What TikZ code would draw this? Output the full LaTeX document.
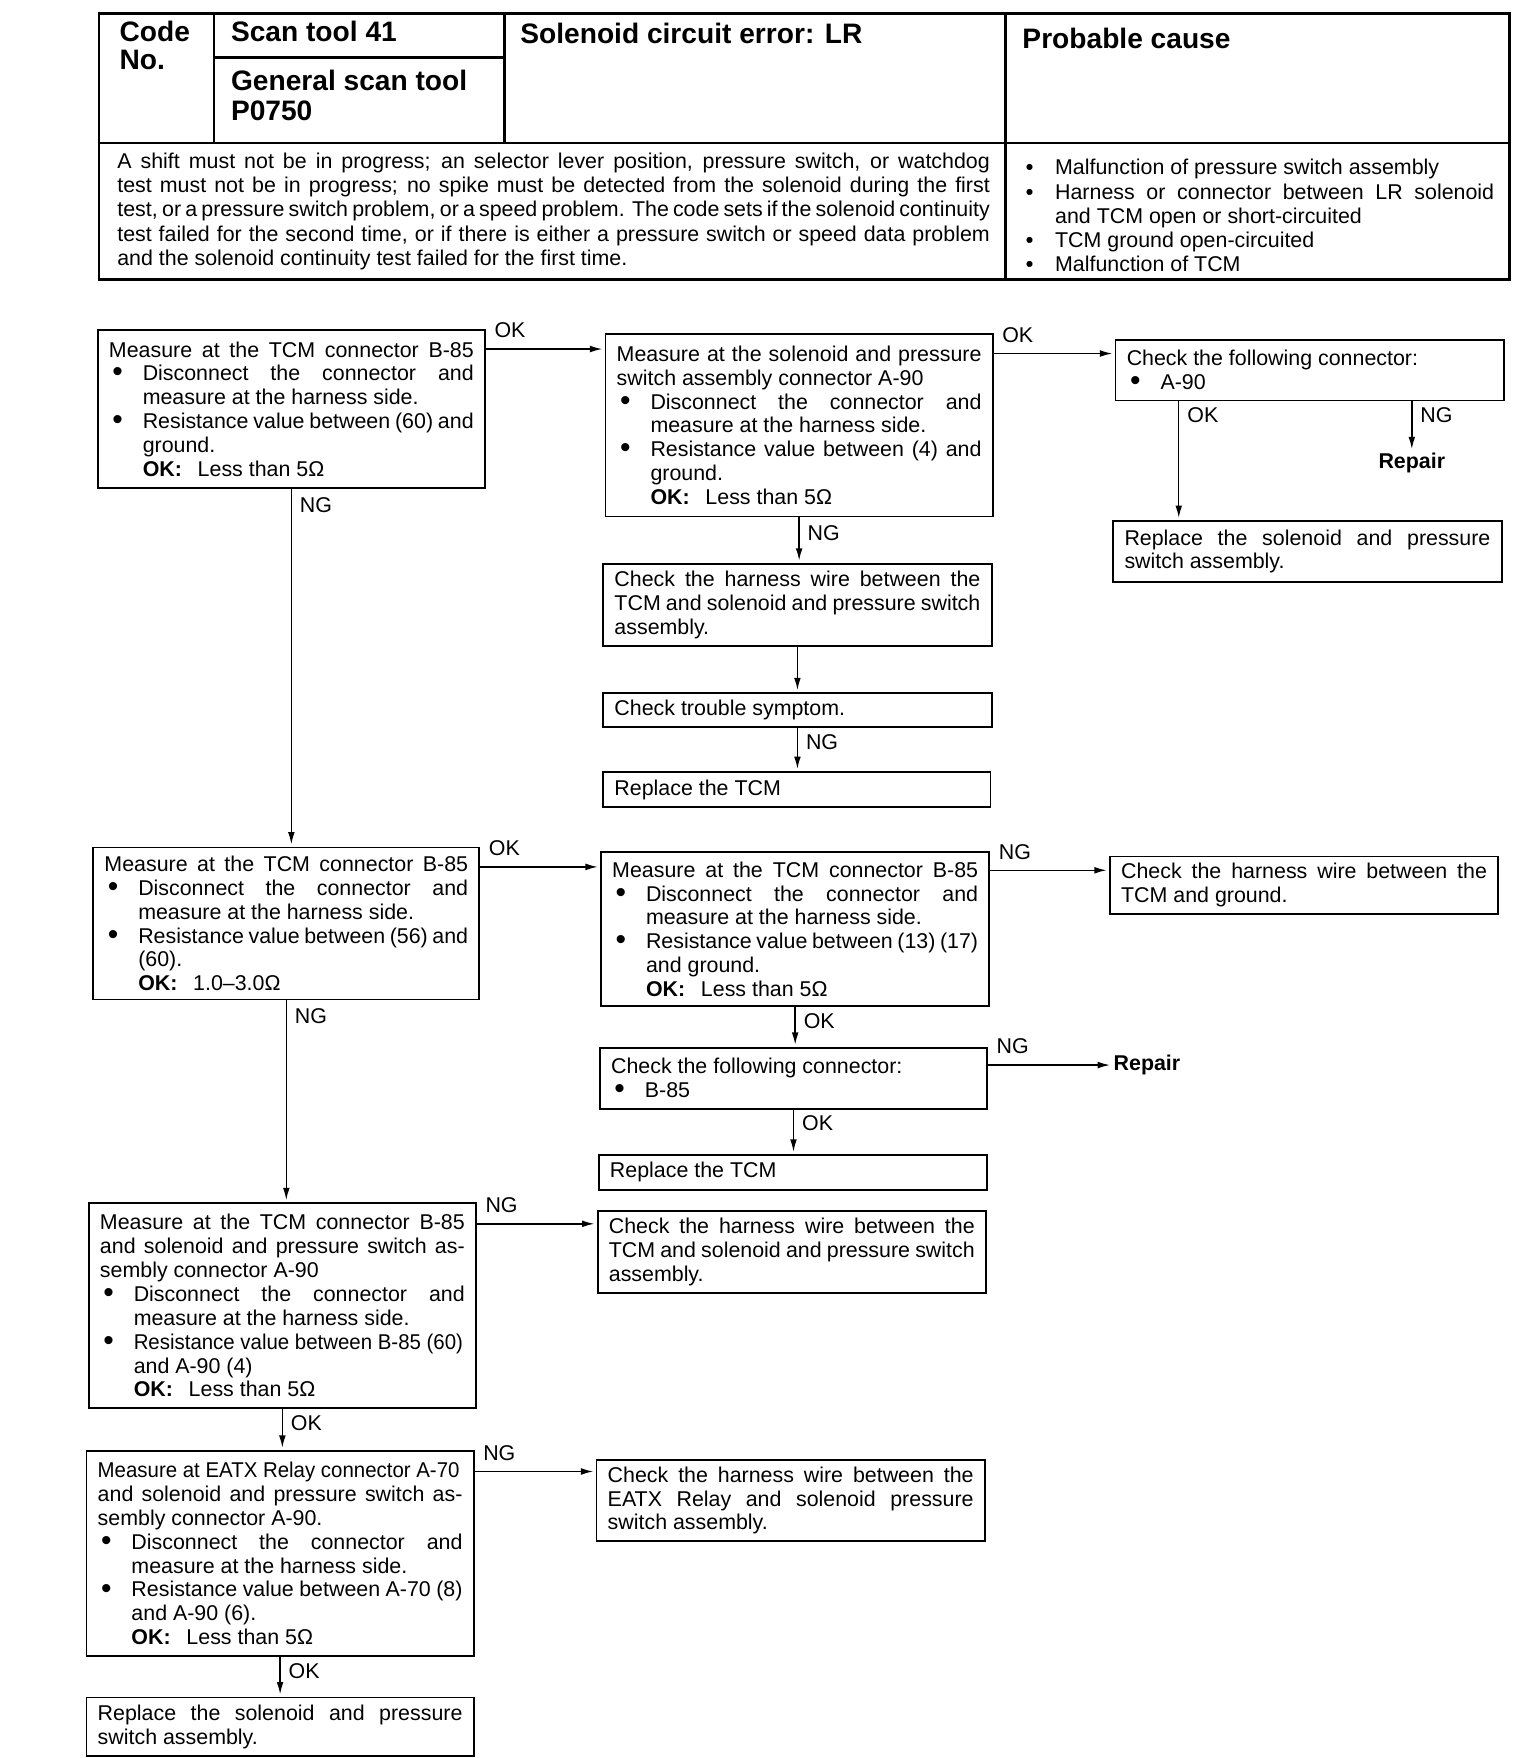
\documentclass[tikz,border=0pt]{standalone}
\usepackage{fontspec}
\setmainfont{Liberation Sans}
\usepackage{graphicx}
\usetikzlibrary{arrows,arrows.meta}

\newcommand{\bodyfont}{\fontsize{19pt}{21.2pt}\selectfont\parindent=0pt\tolerance=10000\hyphenpenalty=10000\hbadness=10000}
\newcommand{\hdrfont}{\fontsize{25pt}{27pt}\selectfont\bfseries}
\newcommand{\bitem}{\par\noindent\hangindent=30pt\hangafter=1\makebox[30pt][l]{\hspace{3pt}\raisebox{-1pt}{\scalebox{1.4}{\textbullet}}}\ignorespaces}
\newcommand{\citem}{\par\noindent\hangindent=30pt\hangafter=1\makebox[30pt][l]{\hspace{4pt}\textbf{\textbullet}}\ignorespaces}
\newcommand{\okline}[1]{\par\noindent\hangindent=30pt\hangafter=0\textbf{OK:}\hspace{14pt}#1\par}
\newcommand{\fullline}{\parfillskip=0pt\par\parfillskip=0pt plus 1fil\relax}
\newcommand{\tight}[1]{\scalebox{0.955}[1]{#1}}

\tikzset{
  box/.style={draw, line width=1.6pt, anchor=north west, inner xsep=10pt, inner ysep=0pt, align=justify, font=\bodyfont},
  flow/.style={line width=1.3pt, -{Latex[length=11pt,width=6pt]}, shorten >=2pt},
  lbl/.style={inner sep=1pt, font=\bodyfont},
  tbl/.style={line width=2.5pt},
  hdr/.style={anchor=base west, inner sep=0pt, font=\hdrfont}
}

\begin{document}
\begin{tikzpicture}[x=1pt,y=-1pt]
\useasboundingbox (0,0) rectangle (1350,1561.5);

% table
\draw[tbl] (88,12) rectangle (1341,248);
\draw[tbl] (88,127) -- (1341,127);
\draw[tbl] (190,12) -- (190,127);
\draw[tbl] (448,12) -- (448,127);
\draw[tbl] (893,12) -- (893,248);
\draw[tbl] (190,51) -- (448,51);

\node[hdr] (code1) at (106,37) {Code};
\node[hdr] (code2) at (106,62) {No.};
\node[hdr] (scan1) at (205,37) {Scan tool 41};
\node[hdr] (gen1) at (205,80) {General scan tool};
\node[hdr] (gen2) at (205,107) {P0750};
\node[hdr] (sol) at (462,39) {Solenoid circuit error: LR};
\node[hdr] (prob) at (908,43) {Probable cause};

\node[anchor=north west, inner xsep=14pt, inner ysep=0pt, text width=775pt, minimum height=121pt, align=justify, font={\bodyfont\fontsize{19pt}{21.5pt}\selectfont}] (cond) at (90,127)
  {A shift must not be in progress; an selector lever position, pressure switch, or watchdog\linebreak
   test must not be in progress; no spike must be detected from the solenoid during the first\linebreak
   test, or a pressure switch problem, or a speed problem. The code sets if the solenoid continuity\linebreak
   test failed for the second time, or if there is either a pressure switch or speed data problem\linebreak
   and the solenoid continuity test failed for the first time.};

\node[anchor=north west, inner xsep=12pt, inner ysep=0pt, text width=420pt, minimum height=121pt, align=justify, font={\bodyfont\fontsize{19pt}{21.5pt}\selectfont}] (causes) at (895,127)
  {\citem Malfunction of pressure switch assembly
   \citem Harness or connector between LR solenoid\linebreak and TCM open or short-circuited
   \citem TCM ground open-circuited
   \citem Malfunction of TCM\par};

% flow chart boxes
\node[box, text width=324pt, minimum height=141pt] (mB1) at (86,292)
  {Measure at the TCM connector B-85\fullline
   \bitem Disconnect the connector and\linebreak measure at the harness side.
   \bitem Resistance value between (60) and\linebreak ground.
   \okline{Less than 5Ω}};
\node[box, text width=324pt, minimum height=162pt] (mB2) at (537,296)
  {Measure at the solenoid and pressure\linebreak switch assembly connector A-90
   \bitem Disconnect the connector and\linebreak measure at the harness side.
   \bitem Resistance value between (4) and\linebreak ground.
   \okline{Less than 5Ω}};
\node[box, text width=325pt, minimum height=54pt] (mB3) at (990,301)
  {Check the following connector:
   \bitem A-90\par};
\node[lbl, font=\bodyfont\bfseries] (rep1) at (1254,411) {Repair};
\node[box, text width=325pt, minimum height=54pt] (mB4) at (988,462)
  {Replace the solenoid and pressure\linebreak switch assembly.};
\node[box, text width=325pt, minimum height=73pt] (mB5) at (535,500)
  {Check the harness wire between the\linebreak TCM and solenoid and pressure switch\linebreak assembly.};
\node[box, text width=325pt, minimum height=30pt] (mB6) at (535,615)
  {Check trouble symptom.};
\node[box, text width=324pt, minimum height=31pt] (mB7) at (535,685)
  {Replace the TCM};

\node[box, text width=323pt, minimum height=135pt] (mB8) at (82,752)
  {Measure at the TCM connector B-85\fullline
   \bitem Disconnect the connector and\linebreak measure at the harness side.
   \bitem Resistance value between (56) and\linebreak (60).
   \okline{1.0--3.0Ω}};
\node[box, text width=325pt, minimum height=137pt] (mB9) at (533,756)
  {Measure at the TCM connector B-85\fullline
   \bitem Disconnect the connector and\linebreak measure at the harness side.
   \bitem Resistance value between (13) (17)\linebreak and ground.
   \okline{Less than 5Ω}};
\node[box, text width=325pt, minimum height=51pt] (mB10) at (985,760)
  {Check the harness wire between the\linebreak TCM and ground.};
\node[box, text width=324pt, minimum height=54pt] (mB11) at (532,930)
  {Check the following connector:
   \bitem B-85\par};
\node[lbl, font=\bodyfont\bfseries, anchor=west] (rep2) at (988,946) {Repair};
\node[box, text width=325pt, minimum height=31pt] (mB12) at (531,1025)
  {Replace the TCM};

\node[box, text width=324pt, minimum height=182pt] (mB13) at (78,1068)
  {Measure at the TCM connector B-85\linebreak and solenoid and pressure switch as-\linebreak sembly connector A-90
   \bitem Disconnect the connector and\linebreak measure at the harness side.
   \bitem \tight{Resistance value between B-85 (60)}\linebreak and A-90 (4)
   \okline{Less than 5Ω}};
\node[box, text width=325pt, minimum height=73pt] (mB14) at (530,1075)
  {Check the harness wire between the\linebreak TCM and solenoid and pressure switch\linebreak assembly.};
\node[box, text width=324pt, minimum height=182pt] (mB15) at (76,1288)
  {\tight{Measure at EATX Relay connector A-70}\linebreak and solenoid and pressure switch as-\linebreak sembly connector A-90.
   \bitem Disconnect the connector and\linebreak measure at the harness side.
   \bitem Resistance value between A-70 (8)\linebreak and A-90 (6).
   \okline{Less than 5Ω}};
\node[box, text width=325pt, minimum height=72pt] (mB16) at (529,1296)
  {Check the harness wire between the\linebreak EATX Relay and solenoid pressure\linebreak switch assembly.};
\node[box, text width=324pt, minimum height=52pt] (mB17) at (76,1507)
  {Replace the solenoid and pressure\linebreak switch assembly.};

% connectors
\coordinate (o1) at ([yshift=-18pt]mB1.north east);
\coordinate (o2) at ([yshift=-18pt]mB2.north east);
\coordinate (o3) at ([xshift=57pt]mB3.south west);
\coordinate (o8) at ([yshift=-18pt]mB8.north east);
\coordinate (o9) at ([yshift=-17pt]mB9.north east);
\coordinate (o13) at ([yshift=-19pt]mB13.north east);
\coordinate (o15) at ([yshift=-19pt]mB15.north east);

\draw[flow] (o1) -- (o1 -| mB2.west) node[lbl, pos=0, anchor=south west, xshift=6pt, yshift=8pt] {OK};
\draw[flow] (o2) -- (o2 -| mB3.west) node[lbl, pos=0, anchor=south west, xshift=6pt, yshift=8pt] {OK};
\draw[flow] (o3) -- (o3 |- mB4.north) node[lbl, pos=0, anchor=north west, xshift=6pt, yshift=-4pt] {OK};
\draw[flow] (rep1.north |- mB3.south) -- (rep1.north) node[lbl, pos=0, anchor=north west, xshift=6pt, yshift=-4pt] {NG};
\draw[flow] (mB1.south) -- (mB1.south |- mB8.north) node[lbl, pos=0, anchor=north west, xshift=6pt, yshift=-6pt] {NG};
\draw[flow] (mB2.south) -- (mB2.south |- mB5.north) node[lbl, pos=0, anchor=north west, xshift=6pt, yshift=-6pt] {NG};
\draw[flow] (mB5.south) -- (mB5.south |- mB6.north);
\draw[flow] (mB6.south) -- (mB6.south |- mB7.north) node[lbl, pos=0, anchor=north west, xshift=6pt, yshift=-4pt] {NG};

\draw[flow] (o8) -- (o8 -| mB9.west) node[lbl, pos=0, anchor=south west, xshift=6pt, yshift=8pt] {OK};
\draw[flow] (o9) -- (o9 -| mB10.west) node[lbl, pos=0, anchor=south west, xshift=6pt, yshift=8pt] {NG};
\draw[flow] (mB9.south) -- (mB9.south |- mB11.north) node[lbl, pos=0, anchor=north west, xshift=6pt, yshift=-4pt] {OK};
\draw[flow] (mB11.east |- rep2.west) -- (rep2.west) node[lbl, pos=0, anchor=south west, xshift=6pt, yshift=8pt] {NG};
\draw[flow] (mB11.south) -- (mB11.south |- mB12.north) node[lbl, pos=0, anchor=north west, xshift=6pt, yshift=-4pt] {OK};
\draw[flow] (mB8.south) -- (mB8.south |- mB13.north) node[lbl, pos=0, anchor=north west, xshift=6pt, yshift=-6pt] {NG};

\draw[flow] (o13) -- (o13 -| mB14.west) node[lbl, pos=0, anchor=south west, xshift=6pt, yshift=8pt] {NG};
\draw[flow] (mB13.south) -- (mB13.south |- mB15.north) node[lbl, pos=0, anchor=north west, xshift=6pt, yshift=-4pt] {OK};
\draw[flow] (o15) -- (o15 -| mB16.west) node[lbl, pos=0, anchor=south west, xshift=6pt, yshift=8pt] {NG};
\draw[flow] (mB15.south) -- (mB15.south |- mB17.north) node[lbl, pos=0, anchor=north west, xshift=6pt, yshift=-4pt] {OK};
\end{tikzpicture}
\end{document}
